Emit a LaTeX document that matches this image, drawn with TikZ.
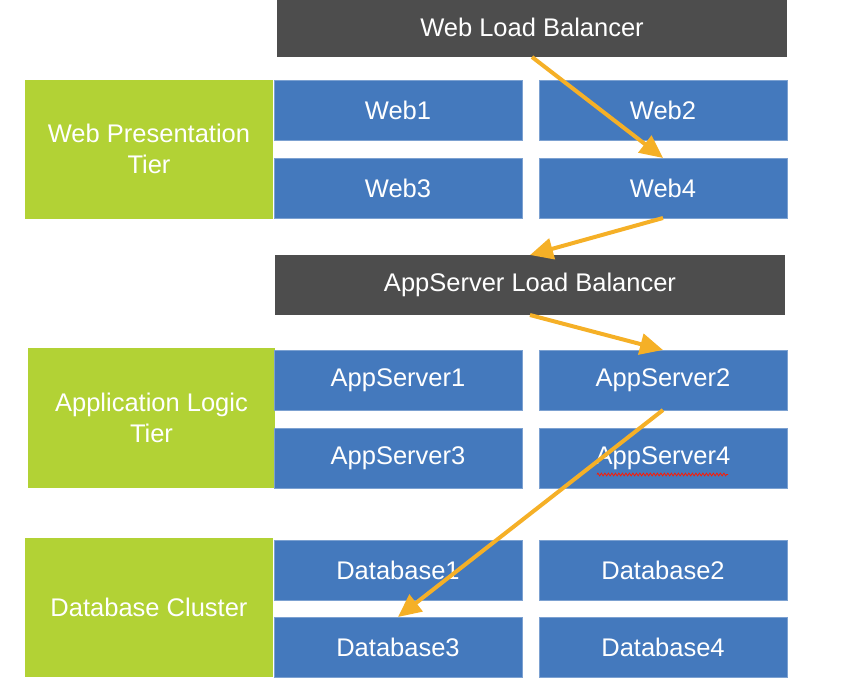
\documentclass[tikz,border=0pt]{standalone}
\usepackage{fontspec}
\setmainfont{Liberation Sans}
\usetikzlibrary{arrows.meta,decorations.pathmorphing}
\definecolor{boxblue}{HTML}{4479BD}
\definecolor{lbgray}{HTML}{4D4D4D}
\definecolor{tiergreen}{HTML}{B2D235}
\definecolor{arroworange}{HTML}{F5B027}
\begin{document}
\begin{tikzpicture}[x=1pt,y=-1pt,
  every node/.style={inner sep=0pt,outer sep=0pt,text=white,font=\fontsize{25.5}{31}\selectfont},
  server/.style={fill=boxblue,draw=boxblue!70!white,line width=0.6pt,minimum width=248pt,minimum height=60pt},
  lb/.style={fill=lbgray,minimum width=510pt,minimum height=60pt},
  tier/.style={fill=tiergreen,minimum width=248pt,minimum height=139pt,align=center},
  flow/.style={draw=arroworange,line width=4pt,-{Triangle[length=23pt,width=21pt]},shorten >=0pt}
]
\useasboundingbox (0,0) rectangle (842,694);
% Web tier
\node[lb] (wlb) at (532,27) {Web Load Balancer};
\node[tier] (wpt) at (149,149) {Web Presentation\\Tier};
\node[server] (web1) at (398,110) {Web1};
\node[server] (web2) at (663,110) {Web2};
\node[server] (web3) at (398,188) {Web3};
\node[server] (web4) at (663,188) {Web4};
% App tier
\node[lb] (alb) at (530,285) {AppServer Load Balancer};
\node[tier,minimum width=247pt,minimum height=140pt] (alt) at (151.5,418) {Application Logic\\Tier};
\node[server] (as1) at (398,380) {AppServer1};
\node[server] (as2) at (663,380) {AppServer2};
\node[server] (as3) at (398,458) {AppServer3};
\node[server] (as4) at (663,458) {AppServer4};
% DB tier
\node[tier] (dbc) at (149,607.5) {Database Cluster};
\node[server] (db1) at (398,570) {Database1};
\node[server] (db2) at (663,570) {Database2};
\node[server] (db3) at (398,647) {Database3};
\node[server] (db4) at (663,647) {Database4};
% spell-check squiggle
\coordinate (sqa) at (597,474.5);
\coordinate (sqb) at (728,474.5);
\draw[red!80!orange,line width=0.8pt,decorate,decoration={zigzag,segment length=3.5pt,amplitude=1.4pt}] (sqa) -- (sqb);
% arrows
\draw[flow] (wlb.south) -- (web4.north);
\draw[flow] (web4.south) -- (alb.north);
\draw[flow] (alb.south) -- (as2.north);
\draw[flow] (as2.south) -- (db3.north);
\end{tikzpicture}
\end{document}
